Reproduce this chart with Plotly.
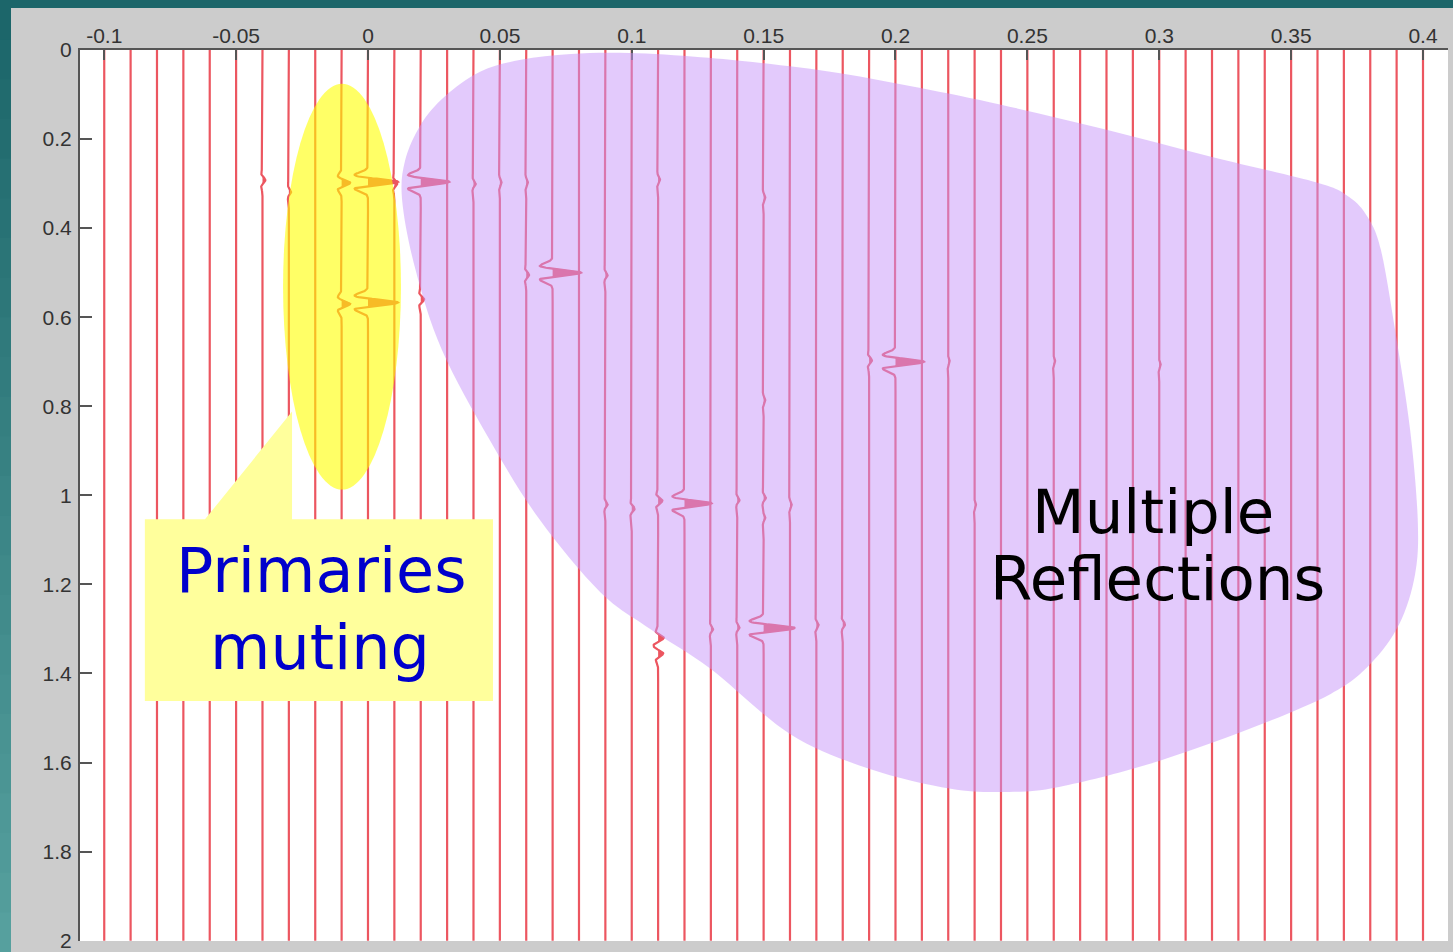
import numpy as np
import plotly.graph_objects as go

# ---------------------------------------------------------------------------
# Gather geometry: one wiggle trace every 10 m of offset (km), time in s
# ---------------------------------------------------------------------------
trace_offsets = [
    -0.10, -0.09, -0.08, -0.07, -0.06, -0.05, -0.04, -0.03, -0.02, -0.01,
    0.00, 0.01, 0.02, 0.03, 0.04, 0.05, 0.06, 0.07, 0.08, 0.09,
    0.10, 0.11, 0.12, 0.13, 0.14, 0.15, 0.16, 0.17, 0.18, 0.19,
    0.20, 0.21, 0.22, 0.23, 0.24, 0.25, 0.26, 0.27, 0.28, 0.29,
    0.30, 0.31, 0.32, 0.33, 0.34, 0.35, 0.36, 0.37, 0.38, 0.39, 0.40,
]

# Reflection events picked on the gather: trace offset, arrival time, amplitude
event_offset = [
    0.00, 0.02, -0.01, 0.00, -0.01, 0.07, 0.20, 0.12, 0.15,
    -0.04, -0.03, 0.01, 0.04, 0.05, 0.06, 0.11, 0.15,
    0.02, 0.06, 0.09, 0.15,
    0.19, 0.22, 0.26, 0.30,
    0.09, 0.10, 0.11, 0.14, 0.15, 0.15, 0.16, 0.23,
    0.11, 0.11, 0.13, 0.14, 0.17, 0.18,
]
event_time = [
    0.296, 0.296, 0.298, 0.567, 0.570, 0.500, 0.700, 1.018, 1.298,
    0.292, 0.318, 0.300, 0.300, 0.296, 0.296, 0.290, 0.330,
    0.560, 0.505, 0.505, 0.785,
    0.697, 0.697, 0.697, 0.705,
    1.020, 1.030, 1.012, 1.010, 1.005, 1.050, 1.020, 1.020,
    1.320, 1.355, 1.300, 1.296, 1.290, 1.290,
]
event_amp = [
    1.05, 1.00, 0.30, 1.05, 0.30, 1.00, 1.00, 0.95, 1.10,
    0.10, 0.08, 0.10, 0.08, 0.06, 0.06, 0.07, 0.06,
    0.12, 0.10, 0.08, 0.06,
    0.10, 0.05, 0.05, 0.05,
    0.08, 0.10, 0.15, 0.08, 0.08, 0.06, 0.06, 0.05,
    0.20, 0.18, 0.08, 0.08, 0.08, 0.08,
]

x_ticks = [-0.1, -0.05, 0, 0.05, 0.1, 0.15, 0.2, 0.25, 0.3, 0.35, 0.4]
x_tick_text = ["-0.1", "-0.05", "0", "0.05", "0.1", "0.15", "0.2", "0.25", "0.3", "0.35", "0.4"]
y_ticks = [0, 0.2, 0.4, 0.6, 0.8, 1, 1.2, 1.4, 1.6, 1.8, 2]
y_tick_text = ["0", "0.2", "0.4", "0.6", "0.8", "1", "1.2", "1.4", "1.6", "1.8", "2"]

# ---------------------------------------------------------------------------
# Wiggle rendering
# ---------------------------------------------------------------------------
T_MAX = 2.0
DT = 0.001
GAIN = 0.0108          # trace excursion (offset units) for unit amplitude
PEAK_FREQ = 25.0       # Ricker wavelet peak frequency, Hz
TRACE_COLOR = "rgb(236,86,96)"

t = np.arange(0.0, T_MAX + DT / 2, DT)


def ricker(tau, f=PEAK_FREQ):
    a = (np.pi * f * tau) ** 2
    return (1.0 - 2.0 * a) * np.exp(-a)


line_x, line_y = [], []
fill_x, fill_y = [], []
ev_off = np.array(event_offset)
for off in trace_offsets:
    idx = np.where(np.isclose(ev_off, off))[0]
    if len(idx) == 0:
        line_x += [off, off, None]
        line_y += [0.0, T_MAX, None]
        continue
    w = np.zeros_like(t)
    for k in idx:
        w += event_amp[k] * ricker(t - event_time[k])
    xs = off + GAIN * w
    line_x += list(xs) + [None]
    line_y += list(t) + [None]

    # variable-area fill of the positive lobes
    pos = w > 1e-3
    edges = np.diff(pos.astype(int))
    starts = list(np.where(edges == 1)[0] + 1)
    ends = list(np.where(edges == -1)[0] + 1)
    for s, e in zip(starts, ends):
        seg_t = t[s - 1:e + 1]
        seg_x = off + GAIN * np.clip(w[s - 1:e + 1], 0, None)
        fill_x += [off] + list(seg_x) + [off, None]
        fill_y += [seg_t[0]] + list(seg_t) + [seg_t[-1], None]

fig = go.Figure()
fig.add_trace(go.Scatter(
    x=fill_x, y=fill_y, mode="lines", fill="toself",
    fillcolor=TRACE_COLOR, line=dict(color=TRACE_COLOR, width=1),
    hoverinfo="skip", showlegend=False,
))
fig.add_trace(go.Scatter(
    x=line_x, y=line_y, mode="lines",
    line=dict(color=TRACE_COLOR, width=2.2),
    hoverinfo="skip", showlegend=False,
))


# ---------------------------------------------------------------------------
# Highlight regions
# ---------------------------------------------------------------------------
def smooth_closed_path(pts):
    """Closed Catmull-Rom spline through pts, as an SVG path string."""
    p = np.array(pts, dtype=float)
    n = len(p)
    d = f"M {p[0][0]:.5f},{p[0][1]:.5f}"
    for i in range(n):
        p0, p1, p2, p3 = p[i - 1], p[i], p[(i + 1) % n], p[(i + 2) % n]
        c1 = p1 + (p2 - p0) / 6.0
        c2 = p2 - (p3 - p1) / 6.0
        d += (f" C {c1[0]:.5f},{c1[1]:.5f} {c2[0]:.5f},{c2[1]:.5f}"
              f" {p2[0]:.5f},{p2[1]:.5f}")
    return d + " Z"


multiples_outline = [
    (0.013, 0.34), (0.014, 0.25), (0.020, 0.168), (0.029, 0.105),
    (0.0425, 0.049), (0.058, 0.022), (0.077, 0.009), (0.099, 0.007),
    (0.126, 0.016), (0.149, 0.029), (0.179, 0.052), (0.209, 0.085),
    (0.240, 0.123), (0.280, 0.179), (0.320, 0.240), (0.360, 0.298),
    (0.372, 0.330), (0.379, 0.375), (0.3840, 0.448), (0.3894, 0.628),
    (0.3951, 0.852), (0.398, 1.054), (0.397, 1.177), (0.391, 1.289),
    (0.380, 1.379), (0.365, 1.446), (0.334, 1.525), (0.2965, 1.603),
    (0.262, 1.655), (0.243, 1.666), (0.221, 1.659), (0.190, 1.614),
    (0.160, 1.536), (0.130, 1.390), (0.107, 1.300), (0.088, 1.217),
    (0.065, 1.054), (0.046, 0.874), (0.028, 0.673), (0.018, 0.493),
]

shapes = [
    # multiples zone
    dict(type="path", xref="x", yref="y", path=smooth_closed_path(multiples_outline),
         fillcolor="rgba(200,150,250,0.5)", line=dict(width=0), layer="above"),
    # primaries zone
    dict(type="circle", xref="x", yref="y", x0=-0.0322, x1=0.0125, y0=0.076, y1=0.987,
         fillcolor="rgba(255,255,0,0.6)", line=dict(width=0), layer="above"),
    # callout box with its pointer
    dict(type="path", xref="x", yref="y",
         path=("M -0.0846,1.054 L -0.0618,1.054 L -0.0288,0.8117 L -0.0288,1.054 "
               "L 0.0474,1.054 L 0.0474,1.462 L -0.0846,1.462 Z"),
         fillcolor="#FFFF9C", line=dict(width=0), layer="above"),
]

# window frame: teal strips around the figure
W, H = 1453, 952
ML, MR, MT, MB = 80, 5, 50, 11
pw, ph = W - ML - MR, H - MT - MB


def px_to_paper_x(px):
    return (px - ML) / pw


def px_to_paper_y(py):
    return (H - MB - py) / ph


shapes.append(dict(type="rect", xref="paper", yref="paper",
                   x0=px_to_paper_x(0), x1=px_to_paper_x(W),
                   y0=px_to_paper_y(8), y1=px_to_paper_y(0),
                   fillcolor="rgb(28,102,106)", line=dict(width=0), layer="above"))
n_bands = 24
top_c = np.array([28, 102, 106])
bot_c = np.array([86, 160, 158])
for i in range(n_bands):
    f = i / (n_bands - 1)
    c = (top_c + (bot_c - top_c) * f).astype(int)
    y0 = i * H / n_bands
    y1 = (i + 1) * H / n_bands + 1
    shapes.append(dict(type="rect", xref="paper", yref="paper",
                       x0=px_to_paper_x(0), x1=px_to_paper_x(11),
                       y0=px_to_paper_y(y1), y1=px_to_paper_y(y0),
                       fillcolor=f"rgb({c[0]},{c[1]},{c[2]})",
                       line=dict(width=0), layer="above"))

label_font = "DejaVu Sans, Verdana, sans-serif"
annotations = [
    dict(x=-0.0178, y=1.169, text="Primaries", font=dict(family=label_font, size=62, color="#0000CC")),
    dict(x=-0.0182, y=1.342, text="muting", font=dict(family=label_font, size=62, color="#0000CC")),
    dict(x=0.2976, y=1.037, text="Multiple", font=dict(family=label_font, size=61, color="#000000")),
    dict(x=0.2992, y=1.186, text="Reflections", font=dict(family=label_font, size=61, color="#000000")),
]
for a in annotations:
    a.update(xref="x", yref="y", showarrow=False, xanchor="center", yanchor="middle")

tick_font = dict(family="Liberation Sans, Arial, sans-serif", size=21, color="#333333")
axis_style = dict(
    showgrid=False, zeroline=False, showline=True, linecolor="#555555", linewidth=2,
    ticks="inside", tickwidth=2, tickcolor="#555555", tickfont=tick_font, mirror=False,
    ticklabeloverflow="allow", automargin=False,
)

fig.update_layout(
    width=W, height=H,
    margin=dict(l=ML, r=MR, t=MT, b=MB, pad=0, autoexpand=False),
    paper_bgcolor="#cccccc",
    plot_bgcolor="#ffffff",
    shapes=shapes,
    annotations=annotations,
    xaxis=dict(range=[-0.10919, 0.40948], side="top", tickvals=x_ticks, ticktext=x_tick_text,
               ticklen=10, ticklabelstandoff=-3, **axis_style),
    yaxis=dict(range=[2.0008, 0], tickvals=y_ticks, ticktext=y_tick_text,
               ticklen=12, ticklabelstandoff=2, **axis_style),
    showlegend=False,
)

fig.write_html("out.html")
